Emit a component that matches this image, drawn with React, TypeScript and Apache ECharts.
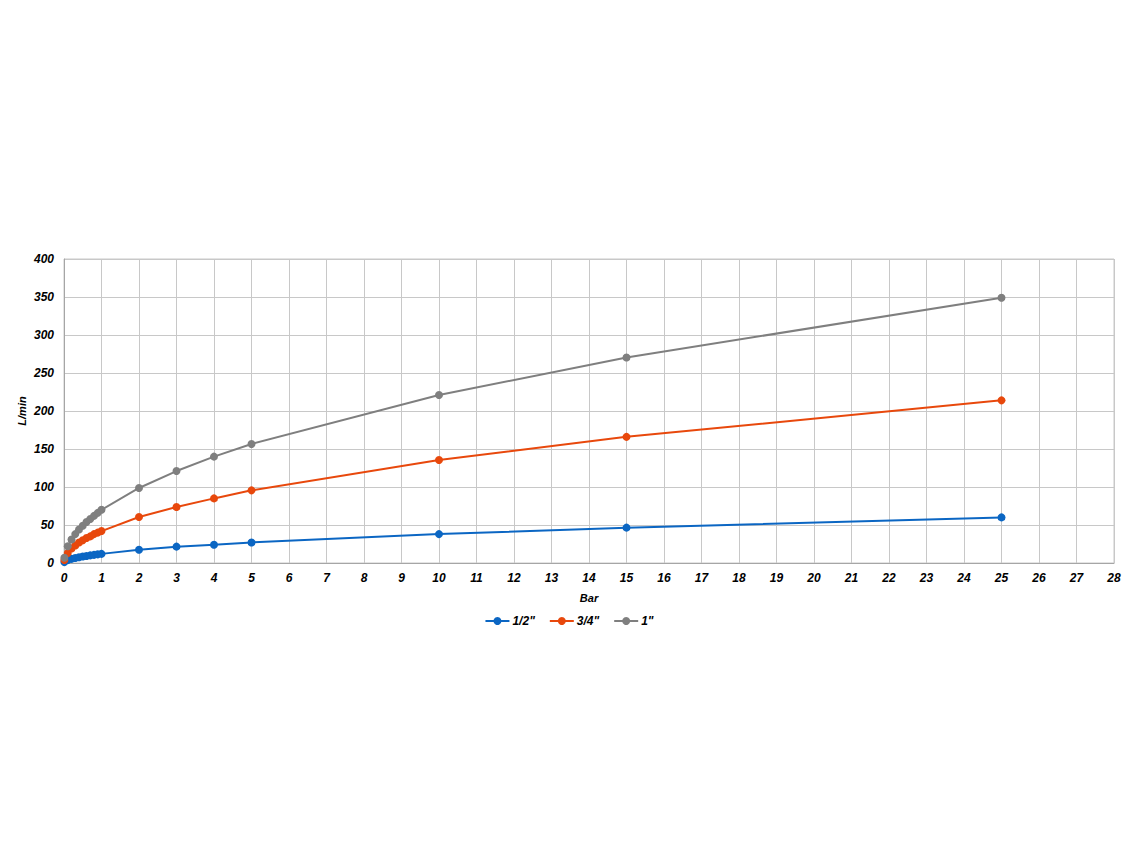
import React, { useEffect, useRef } from "react";
import * as echarts from "echarts";

const pressures = [0.01, 0.1, 0.2, 0.3, 0.4, 0.5, 0.6, 0.7, 0.8, 0.9, 1, 2, 3, 4, 5, 10, 15, 25];
const flowHalf = [1.2, 3.8, 5.4, 6.6, 7.6, 8.5, 9.3, 10, 10.7, 11.4, 12, 17.5, 21.5, 24, 27, 38, 46.5, 60];
const flowThreeQuarter = [4, 13, 19, 23, 27, 30, 33, 35, 38, 40, 42, 60.5, 73.7, 85, 95.6, 135.5, 166, 214];
const flowOne = [7, 22, 31, 38, 44, 49, 54, 58, 62, 66, 70, 98.7, 121, 140, 156.6, 221, 270.5, 349];

const seriesNames = ['1/2"', '3/4"', '1"'];
const seriesColors = ["#0b66c3", "#e8480c", "#7f7f7f"];
const yAxisTitle = "L/min";

const font = "'Liberation Sans', Arial, sans-serif";
const textStyle = { fontFamily: font, fontWeight: "bold", fontStyle: "italic", fontSize: 12, color: "#000" };

export default function App() {
  const ref = useRef<HTMLDivElement>(null);
  useEffect(() => {
    if (!ref.current) return;
    const chart = echarts.init(ref.current, undefined, { renderer: "svg" });
    const datasets = [flowHalf, flowThreeQuarter, flowOne];
    chart.setOption({
      animation: false,
      backgroundColor: "#ffffff",
      grid: { left: 64, right: 24, top: 259, bottom: 291, show: true, borderColor: "#c8c8c8", borderWidth: 1 },
      graphic: [
        {
          type: "text",
          x: 22,
          y: 411,
          rotation: Math.PI / 2,
          style: {
            text: yAxisTitle,
            fontFamily: font,
            fontWeight: "bold",
            fontStyle: "italic",
            fontSize: 11,
            fill: "#000",
            align: "center",
            verticalAlign: "middle",
          },
        },
      ],
      legend: {
        top: 610,
        left: "center",
        itemWidth: 24,
        itemHeight: 10,
        itemGap: 14,
        textStyle: { ...textStyle, padding: [0, 0, 0, -2] },
        data: seriesNames,
      },
      xAxis: {
        type: "value",
        min: 0,
        max: 28,
        interval: 1,
        name: "Bar",
        nameLocation: "middle",
        nameGap: 29,
        nameTextStyle: { ...textStyle, fontSize: 11 },
        axisLine: { show: true, lineStyle: { color: "#a6a6a6" } },
        axisTick: { show: false },
        axisLabel: { ...textStyle, margin: 9 },
        splitLine: { show: true, lineStyle: { color: "#c8c8c8" } },
      },
      yAxis: {
        type: "value",
        min: 0,
        max: 400,
        interval: 50,
        axisLine: { show: true, lineStyle: { color: "#a6a6a6" } },
        axisTick: { show: false },
        axisLabel: { ...textStyle, margin: 10 },
        splitLine: { show: true, lineStyle: { color: "#c8c8c8" } },
      },
      series: datasets.map((d, i) => ({
        name: seriesNames[i],
        type: "line",
        data: pressures.map((p, j) => [p, d[j]]),
        symbol: "circle",
        symbolSize: 8,
        showSymbol: true,
        lineStyle: { width: 2, color: seriesColors[i] },
        itemStyle: { color: seriesColors[i] },
      })),
    });
    return () => chart.dispose();
  }, []);
  return <div ref={ref} style={{ width: 1138, height: 854, position: "absolute", left: 0, top: 0 }} />;
}
